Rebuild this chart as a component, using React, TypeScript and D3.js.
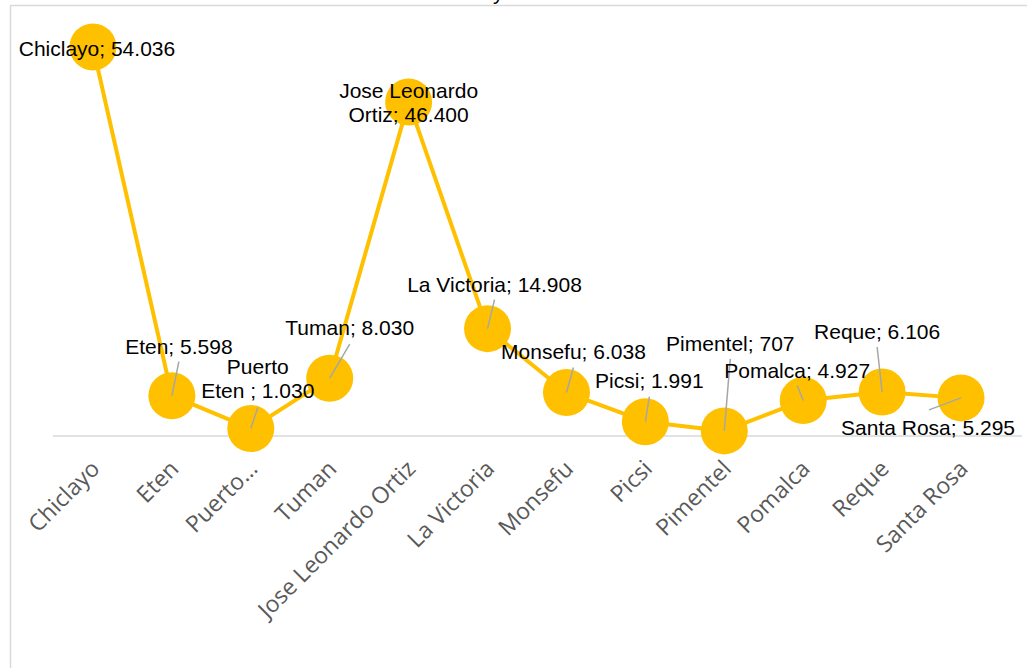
import React from "react";
import * as d3 from "d3";

const categories = [
  "Chiclayo", "Eten", "Puerto Eten", "Tuman", "Jose Leonardo Ortiz", "La Victoria",
  "Monsefu", "Picsi", "Pimentel", "Pomalca", "Reque", "Santa Rosa",
];
const tickLabels = [
  "Chiclayo", "Eten", "Puerto…", "Tuman", "Jose Leonardo Ortiz", "La Victoria",
  "Monsefu", "Picsi", "Pimentel", "Pomalca", "Reque", "Santa Rosa",
];
const values = [54036, 5598, 1030, 8030, 46400, 14908, 6038, 1991, 707, 4927, 6106, 5295];
const valueTexts = ["54.036", "5.598", "1.030", "8.030", "46.400", "14.908", "6.038", "1.991", "707", "4.927", "6.106", "5.295"];
// data label text lines
const labelLines: string[][] = [
  ["Chiclayo; 54.036"],
  ["Eten; 5.598"],
  ["Puerto", "Eten ; 1.030"],
  ["Tuman; 8.030"],
  ["Jose Leonardo", "Ortiz; 46.400"],
  ["La Victoria; 14.908"],
  ["Monsefu; 6.038"],
  ["Picsi; 1.991"],
  ["Pimentel; 707"],
  ["Pomalca; 4.927"],
  ["Reque; 6.106"],
  ["Santa Rosa; 5.295"],
];
// layout: label offset (dx of text centre, dy of last baseline) relative to the point, leader end
const labelOffsets = [
  { dx: 4, dy: 9, leader: false, ly: 0 },
  { dx: 7, dy: -42, leader: true, ly: -34 },
  { dx: 7, dy: -31, leader: true, ly: -21 },
  { dx: 20, dy: -43, leader: true, ly: -34 },
  { dx: 0, dy: 20, leader: false, ly: 0 },
  { dx: 7, dy: -37, leader: true, ly: -29 },
  { dx: 7, dy: -34, leader: true, ly: -25 },
  { dx: 4, dy: -34, leader: true, ly: -25 },
  { dx: 6, dy: -80, leader: true, ly: -72 },
  { dx: -6, dy: -23, leader: true, ly: -15 },
  { dx: -5, dy: -53, leader: true, ly: -45 },
  { dx: -33, dy: 37, leader: true, ly: 12, lx: -32 },
];

const W = 1027;
const H = 668;
const YELLOW = "#FFC000";

export default function App() {
  const x = d3.scaleBand<string>().domain(categories).range([53.5, 1000.5]);
  const y = d3.scaleLinear().domain([0, 60000]).range([436, 4]);
  const cx = (i: number) => (x(categories[i]) as number) + x.bandwidth() / 2;
  const line = d3
    .line<number>()
    .x((_, i) => cx(i))
    .y((d) => y(d));

  return (
    <svg
      width={W}
      height={H}
      style={{ position: "fixed", left: 0, top: 0, background: "#fff" }}
    >
      <rect x={0} y={0} width={W} height={H} fill="#fff" />
      <text
        x={495}
        y={0}
        fontFamily="Liberation Sans, Arial, sans-serif"
        fontSize={21}
        textAnchor="middle"
        fill="#000"
      >
        <tspan dx={-20}>Chiclayo</tspan>
      </text>
      <rect x={10.5} y={5.5} width={1200} height={1000} fill="none" stroke="#d9d9d9" strokeWidth={1.5} />
      <line x1={53} x2={1022} y1={y(0)} y2={y(0)} stroke="#d9d9d9" strokeWidth={1.5} />
      {tickLabels.map((t, i) => (
        <text
          key={"t" + i}
          transform={`translate(${cx(i) - 4},${458}) rotate(-45)`}
          textAnchor="end"
          fontFamily="Open Sans, sans-serif"
          fontSize={23}
          fill="#595959"
          dy="0.75em"
        >
          {t}
        </text>
      ))}
      <path d={line(values) || ""} fill="none" stroke={YELLOW} strokeWidth={4} strokeLinejoin="round" />
      {values.map((v, i) => (
        <circle key={"c" + i} cx={cx(i)} cy={y(v)} r={23.5} fill={YELLOW} />
      ))}
      {values.map((v, i) => {
        const o = labelOffsets[i] as any;
        if (!o.leader) return null;
        return (
          <line
            key={"l" + i}
            x1={cx(i)}
            y1={y(v)}
            x2={cx(i) + (o.lx ?? o.dx)}
            y2={y(v) + o.ly}
            stroke="#a6a6a6"
            strokeWidth={1.5}
          />
        );
      })}
      {values.map((v, i) => {
        const o = labelOffsets[i];
        const lines = labelLines[i];
        const n = lines.length;
        return (
          <text
            key={"d" + i}
            textAnchor="middle"
            fontFamily="Liberation Sans, Arial, sans-serif"
            fontSize={21}
            fill="#000"
            data-value={valueTexts[i]}
          >
            {lines.map((s, k) => (
              <tspan key={k} x={cx(i) + o.dx} y={y(v) + o.dy - (n - 1 - k) * 24}>
                {s}
              </tspan>
            ))}
          </text>
        );
      })}
    </svg>
  );
}
